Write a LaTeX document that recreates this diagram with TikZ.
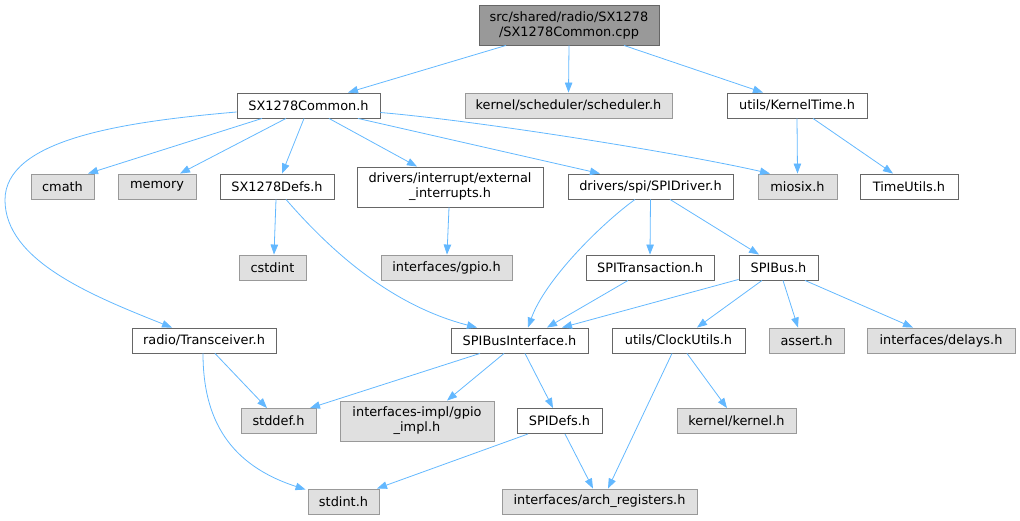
\documentclass[tikz,border=0pt]{standalone}
\usepackage{fontspec}
\setmainfont{DejaVu Sans}
\usetikzlibrary{arrows.meta,calc}
\definecolor{edgec}{HTML}{63B8FF}
\definecolor{bordw}{HTML}{666666}
\definecolor{bordg}{HTML}{999999}
\definecolor{fillg}{HTML}{E0E0E0}
\definecolor{fillr}{HTML}{999999}
\begin{document}
\begin{tikzpicture}[x=1pt,y=-1pt,
  base/.style={line width=0.9pt, minimum height=25pt, inner sep=0pt, align=center, font=\fontsize{12.9}{15}\selectfont},
  wbox/.style={base, draw=bordw, fill=white},
  gbox/.style={base, draw=bordg, fill=fillg},
  rbox/.style={base, draw=bordw, fill=fillr},
  tall/.style={minimum height=40pt},
  dep/.style={draw=edgec, line width=0.8pt, -{Triangle[length=10pt,width=7.5pt]}}
]
\useasboundingbox (0,0) rectangle (1020,520);
% nodes
\node[rbox, tall, minimum width=180pt] (root) at (569,25) {src/shared/radio/SX1278\\/SX1278Common.cpp};
\node[wbox, minimum width=143pt] (sxc) at (308.5,105.5) {SX1278Common.h};
\node[gbox, minimum width=207pt] (sched) at (568.5,105.5) {kernel/scheduler/scheduler.h};
\node[wbox, minimum width=140pt] (ktime) at (797,105.5) {utils/KernelTime.h};
\node[gbox, minimum width=63pt] (cmath) at (62.5,186.5) {cmath};
\node[gbox, minimum width=78pt] (memory) at (157,186.5) {memory};
\node[wbox, minimum width=114pt] (defs) at (277,186.5) {SX1278Defs.h};
\node[wbox, tall, minimum width=186pt] (intr) at (450,187) {drivers/interrupt/external\\\_interrupts.h};
\node[wbox, minimum width=165pt] (spidrv) at (650.5,186.5) {drivers/spi/SPIDriver.h};
\node[gbox, minimum width=79pt] (miosix) at (797.5,186.5) {miosix.h};
\node[wbox, minimum width=98pt] (tutils) at (909,186.5) {TimeUtils.h};
\node[gbox, minimum width=67pt] (cstdint) at (272.5,267.5) {cstdint};
\node[gbox, minimum width=131pt] (gpio) at (446.5,267.5) {interfaces/gpio.h};
\node[wbox, minimum width=128pt] (spitr) at (650,267.5) {SPITransaction.h};
\node[wbox, minimum width=79pt] (spibus) at (778.5,267.5) {SPIBus.h};
\node[wbox, minimum width=144pt] (trx) at (204,340.5) {radio/Transceiver.h};
\node[wbox, minimum width=137pt] (sbi) at (519.5,340.5) {SPIBusInterface.h};
\node[wbox, minimum width=133pt] (clock) at (678.5,340.5) {utils/ClockUtils.h};
\node[gbox, minimum width=75pt] (assert) at (806.5,340.5) {assert.h};
\node[gbox, minimum width=148pt] (delays) at (941,340.5) {interfaces/delays.h};
\node[gbox, minimum width=75pt] (stddef) at (278.5,421) {stddef.h};
\node[gbox, tall, minimum width=154pt] (gpioimpl) at (417,421) {interfaces-impl/gpio\\\_impl.h};
\node[wbox, minimum width=85pt] (spidefs) at (559.5,421) {SPIDefs.h};
\node[gbox, minimum width=119pt] (kernel) at (736.5,421) {kernel/kernel.h};
\node[gbox, minimum width=71pt] (stdint) at (343.5,501.5) {stdint.h};
\node[gbox, minimum width=195pt] (arch) at (599.5,501.5) {interfaces/arch\_registers.h};
% edges
\draw[dep] ($(root.south)+(-63,0)$) -- ($(sxc.north)+(39.5,0)$);
\draw[dep] (root.south) -- (sched.north);
\draw[dep] ($(root.south)+(55,0)$) -- ($(ktime.north)+(-34,0)$);
\draw[dep] ($(sxc.south)+(-46.5,0)$) -- ($(cmath.north)+(25.5,0)$);
\draw[dep] ($(sxc.south)+(-22.5,0)$) -- ($(memory.north)+(23,0)$);
\draw[dep] ($(sxc.south)+(-4.5,0)$) -- ($(defs.north)+(5,0)$);
\draw[dep] ($(sxc.south)+(20.5,0)$) -- ($(intr.north)+(-33,0)$);
\draw[dep] ($(sxc.south)+(49.5,0)$) -- ($(spidrv.north)+(-50.5,0)$);
\draw[dep] ($(sxc.east)+(0,7)$) .. controls (480,121) and (680,153) .. ($(miosix.north)+(-27.5,0)$);
\draw[dep] ($(sxc.west)+(0,6.5)$) .. controls (120,122) and (5,140) .. (5,200) .. controls (5,260) and (90,295) .. ($(trx.north)+(-32,0)$);
\draw[dep] (ktime.south) -- (miosix.north);
\draw[dep] ($(ktime.south)+(16,0)$) -- ($(tutils.north)+(-16,0)$);
\draw[dep] ($(defs.south)+(-1,0)$) -- ($(cstdint.north)+(1.5,0)$);
\draw[dep] ($(defs.south)+(9,0)$) .. controls (330,250) and (390,305) .. ($(sbi.north)+(-42.5,0)$);
\draw[dep] ($(intr.south)+(-1,0)$) -- ($(gpio.north)+(0.5,0)$);
\draw[dep] ($(spidrv.south)+(-15.5,0)$) .. controls (600,225) and (545,280) .. ($(sbi.north)+(8.5,0)$);
\draw[dep] (spidrv.south) -- (spitr.north);
\draw[dep] ($(spidrv.south)+(19.5,0)$) -- ($(spibus.north)+(-19.5,0)$);
\draw[dep] ($(spitr.south)+(-22,0)$) -- ($(sbi.north)+(27.5,0)$);
\draw[dep] ($(spibus.south west)+(0,-1)$) -- ($(sbi.north)+(42.5,0)$);
\draw[dep] ($(spibus.south)+(-16.5,0)$) -- ($(clock.north)+(18.5,0)$);
\draw[dep] ($(spibus.south)+(4.5,0)$) -- ($(assert.north)+(-8.5,0)$);
\draw[dep] ($(spibus.south)+(26.5,0)$) -- ($(delays.north)+(-28,0)$);
\draw[dep] ($(trx.south)+(11,0)$) -- ($(stddef.north)+(-11.5,0)$);
\draw[dep] ($(trx.south)+(-1,0)$) .. controls (203,420) and (230,465) .. ($(stdint.north west)+(-2,1)$);
\draw[dep] ($(sbi.south)+(-39.5,0)$) -- ($(stddef.north)+(31.5,0)$);
\draw[dep] ($(sbi.south)+(-15.5,0)$) -- ($(gpioimpl.north)+(30,0)$);
\draw[dep] ($(sbi.south)+(5.5,0)$) -- ($(spidefs.north)+(-6.5,0)$);
\draw[dep] ($(spidefs.south)+(-31.5,0)$) -- ($(stdint.north)+(33.5,0)$);
\draw[dep] ($(spidefs.south)+(5.5,0)$) -- ($(arch.north)+(-6.5,0)$);
\draw[dep] ($(clock.south)+(-6.5,0)$) -- ($(arch.north)+(8.5,0)$);
\draw[dep] ($(clock.south)+(8.5,0)$) -- ($(kernel.north)+(-9.5,0)$);
\end{tikzpicture}
\end{document}
